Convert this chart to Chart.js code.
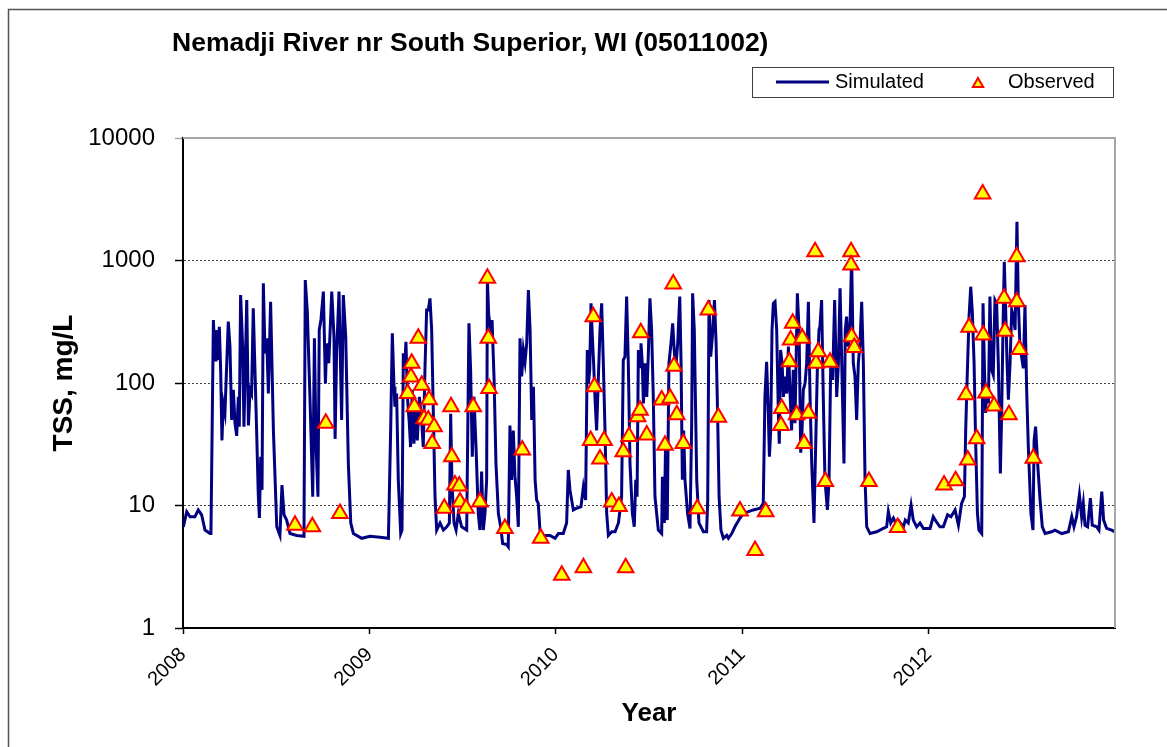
<!DOCTYPE html>
<html>
<head>
<meta charset="utf-8">
<title>Nemadji River nr South Superior, WI (05011002)</title>
<script src="https://cdn.jsdelivr.net/npm/chart.js@4.4.1/dist/chart.umd.min.js"></script>
<style>
  html, body { margin: 0; padding: 0; background: #fff; }
  #wrap { width: 1167px; height: 747px; }
</style>
</head>
<body>
<div id="wrap"><canvas id="myCanvas" width="1167" height="747"></canvas></div>
<script>
'use strict';

//chart data

const chartTitle = 'Nemadji River nr South Superior, WI (05011002)';
const yearTicks = [2008, 2009, 2010, 2011, 2012];
const tssTicks = [1, 10, 100, 1000, 10000];

// simulated TSS (mg/L) against decimal year
const simYear = [
  2008.002, 2008.020, 2008.038, 2008.064, 2008.082, 2008.100, 2008.118, 2008.145, 2008.150, 2008.163,
  2008.172, 2008.177, 2008.184, 2008.195, 2008.202, 2008.209, 2008.216, 2008.225, 2008.243, 2008.252,
  2008.261, 2008.270, 2008.279, 2008.288, 2008.297, 2008.302, 2008.309, 2008.320, 2008.327, 2008.342,
  2008.351, 2008.360, 2008.368, 2008.377, 2008.395, 2008.404, 2008.410, 2008.417, 2008.424, 2008.431,
  2008.440, 2008.449, 2008.458, 2008.470, 2008.485, 2008.503, 2008.520, 2008.531, 2008.542, 2008.556,
  2008.574, 2008.610, 2008.649, 2008.656, 2008.667, 2008.681, 2008.696, 2008.705, 2008.714, 2008.724,
  2008.731, 2008.740, 2008.753, 2008.764, 2008.771, 2008.782, 2008.798, 2008.810, 2008.816, 2008.824,
  2008.837, 2008.851, 2008.860, 2008.873, 2008.887, 2008.900, 2008.914, 2008.959,
  2009.003, 2009.057, 2009.102, 2009.114, 2009.123, 2009.132, 2009.137, 2009.146, 2009.155, 2009.168,
  2009.175, 2009.182, 2009.189, 2009.196, 2009.204, 2009.214, 2009.221, 2009.230, 2009.239, 2009.248,
  2009.257, 2009.268, 2009.280, 2009.289, 2009.298, 2009.307, 2009.316, 2009.325, 2009.334, 2009.343,
  2009.352, 2009.361, 2009.379, 2009.397, 2009.415, 2009.429, 2009.436, 2009.443, 2009.454, 2009.465,
  2009.477, 2009.495, 2009.522, 2009.534, 2009.543, 2009.552, 2009.561, 2009.572, 2009.584, 2009.593,
  2009.602, 2009.611, 2009.620, 2009.629, 2009.633, 2009.640, 2009.651, 2009.658, 2009.669, 2009.679,
  2009.692, 2009.704, 2009.715, 2009.736, 2009.745, 2009.754, 2009.763, 2009.772, 2009.781, 2009.790,
  2009.799, 2009.808, 2009.817, 2009.826, 2009.835, 2009.844, 2009.853, 2009.862, 2009.871, 2009.880,
  2009.889, 2009.897, 2009.906, 2009.915, 2009.933, 2009.969, 2009.996,
  2010.014, 2010.040, 2010.058, 2010.067, 2010.076, 2010.094, 2010.112, 2010.135, 2010.148, 2010.160,
  2010.169, 2010.175, 2010.182, 2010.189, 2010.196, 2010.203, 2010.210, 2010.219, 2010.228, 2010.237,
  2010.246, 2010.255, 2010.264, 2010.273, 2010.282, 2010.300, 2010.318, 2010.336, 2010.353, 2010.362,
  2010.371, 2010.380, 2010.389, 2010.398, 2010.411, 2010.421, 2010.429, 2010.436, 2010.443, 2010.452,
  2010.457, 2010.464, 2010.470, 2010.479, 2010.488, 2010.496, 2010.505, 2010.514, 2010.523, 2010.532,
  2010.550, 2010.568, 2010.572, 2010.582, 2010.589, 2010.598, 2010.607, 2010.618, 2010.627, 2010.634,
  2010.643, 2010.654, 2010.665, 2010.672, 2010.679, 2010.686, 2010.693, 2010.707, 2010.720, 2010.729,
  2010.734, 2010.743, 2010.756, 2010.768, 2010.792, 2010.809, 2010.815, 2010.822, 2010.831, 2010.840,
  2010.851, 2010.860, 2010.868, 2010.876, 2010.886, 2010.899, 2010.917, 2010.926, 2010.944, 2010.961,
  2010.988,
  2011.006, 2011.033, 2011.060, 2011.096, 2011.113, 2011.122, 2011.131, 2011.140, 2011.146, 2011.153,
  2011.160, 2011.167, 2011.176, 2011.185, 2011.194, 2011.199, 2011.206, 2011.214, 2011.221, 2011.230,
  2011.239, 2011.248, 2011.256, 2011.265, 2011.274, 2011.283, 2011.296, 2011.305, 2011.314, 2011.321,
  2011.328, 2011.337, 2011.346, 2011.355, 2011.364, 2011.373, 2011.385, 2011.396, 2011.403, 2011.412,
  2011.417, 2011.426, 2011.435, 2011.444, 2011.457, 2011.466, 2011.475, 2011.485, 2011.496, 2011.507,
  2011.516, 2011.525, 2011.534, 2011.546, 2011.553, 2011.560, 2011.569, 2011.578, 2011.587, 2011.596,
  2011.605, 2011.614, 2011.623, 2011.632, 2011.641, 2011.650, 2011.659, 2011.668, 2011.686, 2011.721,
  2011.757, 2011.775, 2011.784, 2011.797, 2011.811, 2011.829, 2011.843, 2011.865, 2011.875, 2011.891,
  2011.906, 2011.918, 2011.936, 2011.954, 2011.972,
  2012.008, 2012.025, 2012.043, 2012.061, 2012.079, 2012.102, 2012.120, 2012.142, 2012.160, 2012.177,
  2012.192, 2012.199, 2012.206, 2012.217, 2012.226, 2012.235, 2012.244, 2012.253, 2012.262, 2012.270,
  2012.285, 2012.292, 2012.299, 2012.306, 2012.313, 2012.321, 2012.329, 2012.338, 2012.347, 2012.356,
  2012.365, 2012.374, 2012.385, 2012.392, 2012.399, 2012.406, 2012.414, 2012.421, 2012.428, 2012.437,
  2012.446, 2012.455, 2012.464, 2012.474, 2012.481, 2012.490, 2012.499, 2012.508, 2012.517, 2012.526,
  2012.535, 2012.549, 2012.560, 2012.566, 2012.574, 2012.585, 2012.598, 2012.610, 2012.625, 2012.660,
  2012.678, 2012.714, 2012.750, 2012.768, 2012.780, 2012.794, 2012.809, 2012.821, 2012.830, 2012.839,
  2012.853, 2012.868, 2012.878, 2012.902, 2012.914, 2012.929, 2012.939, 2012.955, 2012.982, 2013.000
];
const simTSS = [
  6.7, 8.9, 8.1, 8.1, 9.2, 8.4, 6.3, 5.9, 6.0, 327,
  154, 271, 154, 288, 128, 34, 68, 57, 317, 198,
  50, 88, 47, 37, 77, 44, 523, 198, 44, 476,
  45, 88, 82, 407, 41, 12, 7.9, 25, 13.4, 651,
  175, 232, 82, 461, 41, 6.7, 5.7, 14.7, 8.4, 7.6,
  5.9, 5.7, 5.6, 693, 382, 77, 11.8, 232, 30, 11.8,
  271, 327, 557, 99, 211, 145, 557, 239, 35, 175,
  557, 50, 523, 239, 22, 7.2, 5.9, 5.4,
  5.6, 5.5, 5.4, 41, 255, 93, 64, 82, 16.2, 5.9,
  6.3, 175, 128, 217, 77, 47, 30, 88, 32, 68,
  34, 77, 50, 30, 128, 394, 394, 491, 271, 57,
  11.8, 6.3, 7.2, 6.3, 6.7, 7.2, 56, 15.2, 7.2, 6.3,
  8.6, 6.7, 6.3, 307, 128, 25, 77, 30, 8.6, 6.3,
  18.9, 6.3, 8.6, 16.2, 693, 360, 271, 327, 106, 22,
  8.6, 6.7, 4.9, 4.8, 4.6, 45, 16.2, 41, 17.2, 11.8,
  6.7, 232, 113, 186, 149, 211, 574, 271, 50, 93,
  16.2, 11.1, 10.4, 6.3, 5.7, 5.7, 5.4,
  5.9, 5.9, 7.2, 19.5, 13.4, 9.2, 9.5, 9.8, 14.2, 11.1,
  186, 99, 128, 447, 239, 145, 77, 41, 106, 271,
  447, 145, 41, 8.6, 5.7, 6.1, 6.1, 7.2, 11.8, 154,
  164, 507, 145, 22, 8.6, 6.7, 16.2, 11.8, 186, 136,
  211, 145, 68, 145, 77, 164, 491, 271, 77, 11.8,
  6.3, 5.9, 17.2, 7.2, 32, 7.6, 145, 211, 307, 198,
  128, 211, 507, 145, 16.2, 41, 16.2, 8.6, 6.5, 47,
  540, 271, 16.2, 7.2, 6.1, 6.1, 11.1, 476, 164, 239,
  476, 211, 57, 11.8, 6.3, 5.4, 5.7, 5.4, 5.9, 6.7,
  7.9,
  8.6, 8.9, 9.2, 9.5, 10.4, 77, 149, 57, 25, 41,
  271, 447, 461, 271, 57, 32, 186, 145, 77, 113,
  82, 198, 88, 41, 128, 47, 540, 271, 27, 41,
  88, 99, 145, 461, 77, 22, 7.2, 41, 128, 271,
  288, 476, 77, 16.2, 9.2, 16.2, 145, 106, 476, 77,
  145, 593, 145, 22, 271, 348, 198, 271, 1074, 145,
  113, 50, 145, 211, 461, 145, 16.2, 6.7, 5.9, 6.1,
  6.5, 6.7, 8.9, 7.2, 7.9, 6.9, 7.4, 6.7, 7.6, 7.2,
  10.1, 7.6, 6.7, 7.2, 6.5,
  6.5, 8.1, 7.3, 6.7, 6.7, 8.4, 8.1, 9.2, 6.9, 10.4,
  11.8, 41, 99, 348, 611, 371, 145, 30, 8.6, 6.3,
  5.9, 447, 145, 57, 99, 68, 507, 128, 116, 476,
  447, 145, 18.3, 57, 271, 978, 371, 145, 73, 145,
  394, 348, 271, 2075, 476, 198, 164, 132, 433, 88,
  30, 8.6, 6.3, 34, 44, 22, 11.1, 6.7, 5.9, 6.1,
  6.3, 5.9, 6.1, 8.1, 6.7, 8.1, 12.2, 8.1, 10.4, 6.9,
  6.7, 11.5, 6.9, 6.7, 6.3, 13.0, 7.6, 6.5, 6.3, 6.1
];

// observed TSS samples (mg/L)
const obsYear = [
  2008.601, 2008.694, 2008.766, 2008.842,
  2009.205, 2009.223, 2009.227, 2009.241, 2009.262, 2009.281, 2009.293, 2009.316, 2009.320, 2009.337,
  2009.347, 2009.402, 2009.438, 2009.442, 2009.459, 2009.482, 2009.486, 2009.518, 2009.557, 2009.593,
  2009.633, 2009.638, 2009.642, 2009.727, 2009.820, 2009.919,
  2010.032, 2010.148, 2010.187, 2010.201, 2010.207, 2010.237, 2010.259, 2010.300, 2010.339, 2010.362,
  2010.375, 2010.393, 2010.439, 2010.452, 2010.456, 2010.488, 2010.568, 2010.586, 2010.613, 2010.630,
  2010.634, 2010.649, 2010.684, 2010.759, 2010.818, 2010.872, 2010.988,
  2011.069, 2011.126, 2011.208, 2011.212, 2011.253, 2011.260, 2011.271, 2011.292, 2011.322, 2011.332,
  2011.355, 2011.391, 2011.396, 2011.408, 2011.446, 2011.471, 2011.584, 2011.584, 2011.587, 2011.601,
  2011.680, 2011.834,
  2012.083, 2012.145, 2012.201, 2012.210, 2012.217, 2012.258, 2012.290, 2012.293, 2012.308, 2012.351,
  2012.405, 2012.410, 2012.431, 2012.473, 2012.473, 2012.487, 2012.562
];
const obsTSS = [
  6.9, 6.7, 47, 8.6,
  82, 112, 145, 64, 232, 96, 51, 50, 73, 32,
  44, 9.5, 64, 25, 14.7, 14.4, 10.7, 9.5, 64, 10.7,
  716, 232, 90, 6.5, 28.4, 5.4,
  2.7, 3.1, 34, 347, 93, 24, 34, 10.7, 9.8, 27.5,
  3.1, 36.5, 53, 60, 257, 37.6, 72.6, 31, 75, 643,
  137, 55, 32, 9.4, 395, 52.5, 9.0,
  4.3, 8.9, 45, 62, 149, 224, 308, 55, 232, 32,
  56.5, 1180, 145, 180, 15.7, 148, 1180, 920, 239, 195,
  15.7, 6.6,
  14.7, 15.9, 80, 23.5, 285, 35, 3490, 246, 83, 65,
  492, 265, 55, 1075, 460, 188, 24.3
];

//helpers

Chart.defaults.font.family = '"Liberation Sans", Arial, Helvetica, sans-serif';
Chart.defaults.color = '#000';

function toPoints(xs, ys) {
  let pts = [];
  for (let i = 0; i < xs.length; i++) {
    pts.push({ x: xs[i], y: ys[i] });
  }
  return pts;
}

// frame, title and the boxed legend (Excel style)
const decorations = {
  id: 'decorations',
  beforeDraw(chart) {
    const ctx = chart.ctx;
    ctx.save();
    ctx.fillStyle = '#fff';
    ctx.fillRect(0, 0, chart.width, chart.height);
    ctx.strokeStyle = '#555';
    ctx.lineWidth = 1.5;
    ctx.beginPath();
    ctx.moveTo(8.5, chart.height);
    ctx.lineTo(8.5, 9.5);
    ctx.lineTo(chart.width, 9.5);
    ctx.stroke();
    ctx.restore();
  },
  afterDraw(chart) {
    const ctx = chart.ctx;
    const area = chart.chartArea;
    const sim = chart.data.datasets[0];
    const obs = chart.data.datasets[1];
    ctx.save();

    // grey top and right edge of the plot area
    ctx.strokeStyle = '#a6a6a6';
    ctx.lineWidth = 2;
    ctx.beginPath();
    ctx.moveTo(area.left, area.top);
    ctx.lineTo(area.right, area.top);
    ctx.lineTo(area.right, area.bottom);
    ctx.stroke();

    // title
    ctx.fillStyle = '#000';
    ctx.textBaseline = 'middle';
    ctx.textAlign = 'left';
    ctx.font = 'bold 26.5px "Liberation Sans", Arial, sans-serif';
    ctx.fillText(chartTitle, 172, 44);

    // legend
    ctx.strokeStyle = '#404040';
    ctx.lineWidth = 1;
    ctx.strokeRect(752.5, 67.5, 361, 30);
    ctx.strokeStyle = sim.borderColor;
    ctx.lineWidth = 3;
    ctx.beginPath();
    ctx.moveTo(776, 82);
    ctx.lineTo(829, 82);
    ctx.stroke();
    ctx.font = '20px "Liberation Sans", Arial, sans-serif';
    ctx.fillText(sim.label, 835, 82);
    ctx.fillStyle = obs.backgroundColor;
    ctx.strokeStyle = obs.borderColor;
    ctx.lineWidth = 2;
    Chart.helpers.drawPoint(ctx, { pointStyle: 'triangle', radius: 6, borderWidth: 2, rotation: 0 }, 978, 84);
    ctx.fillStyle = '#000';
    ctx.fillText(obs.label, 1008, 82);

    ctx.restore();
  }
};

function renderChart() {
  const data = {
    datasets: [
      {
        label: 'Simulated',
        data: toPoints(simYear, simTSS),
        showLine: true,
        borderColor: '#000080',
        backgroundColor: '#000080',
        borderWidth: 3,
        pointRadius: 0,
        pointHoverRadius: 0,
        tension: 0,
        order: 1
      },
      {
        label: 'Observed',
        data: toPoints(obsYear, obsTSS),
        showLine: false,
        pointStyle: 'triangle',
        pointRadius: 9,
        pointHoverRadius: 9,
        backgroundColor: '#ffff00',
        borderColor: '#ff0000',
        pointBorderWidth: 2,
        order: 0
      }
    ]
  };

  const config = {
    type: 'scatter',
    data: data,
    options: {
      responsive: false,
      animation: false,
      devicePixelRatio: 1,
      layout: { padding: { top: 138, right: 52, left: 0, bottom: 0 } },
      plugins: {
        legend: { display: false },
        title: { display: false },
        tooltip: { enabled: false }
      },
      scales: {
        x: {
          type: 'linear',
          position: 'bottom',
          min: 2008,
          max: 2013,
          afterBuildTicks: (scale) => { scale.ticks = yearTicks.map(v => ({ value: v })); },
          afterFit: (scale) => { scale.height = 119; },
          ticks: {
            autoSkip: false,
            minRotation: 45,
            maxRotation: 45,
            padding: 9,
            font: { size: 20 },
            callback: (v) => String(v)
          },
          grid: {
            drawOnChartArea: false,
            drawTicks: true,
            tickLength: 6,
            tickColor: '#000',
            tickWidth: 1.5
          },
          border: { display: true, color: '#000', width: 2 },
          title: {
            display: true,
            text: 'Year',
            font: { size: 26, weight: 'bold' },
            padding: { top: 0, bottom: 18 }
          }
        },
        y: {
          type: 'logarithmic',
          position: 'left',
          min: 1,
          max: 10000,
          afterBuildTicks: (scale) => { scale.ticks = tssTicks.map(v => ({ value: v })); },
          afterFit: (scale) => { scale.width = 183; },
          ticks: {
            padding: 20,
            font: { size: 24 },
            callback: (v) => String(v)
          },
          grid: {
            color: (c) => (c.tick && c.tick.value > 1 && c.tick.value < 10000) ? '#404040' : 'rgba(0,0,0,0)',
            lineWidth: 1,
            tickLength: 8,
            tickWidth: 1.5,
            tickBorderDash: [],
            tickColor: (c) => (c.tick && c.tick.value === 10000) ? '#a6a6a6' : '#000'
          },
          border: { display: true, color: '#000', width: 2, dash: [2, 2] },
          title: {
            display: true,
            text: 'TSS, mg/L',
            font: { size: 28, weight: 'bold' },
            padding: { top: 47, bottom: 0 }
          }
        }
      }
    },
    plugins: [decorations]
  };

  const canvas = document.getElementById('myCanvas');
  const myChart = new Chart(canvas, config);
}

renderChart();
</script>
</body>
</html>
